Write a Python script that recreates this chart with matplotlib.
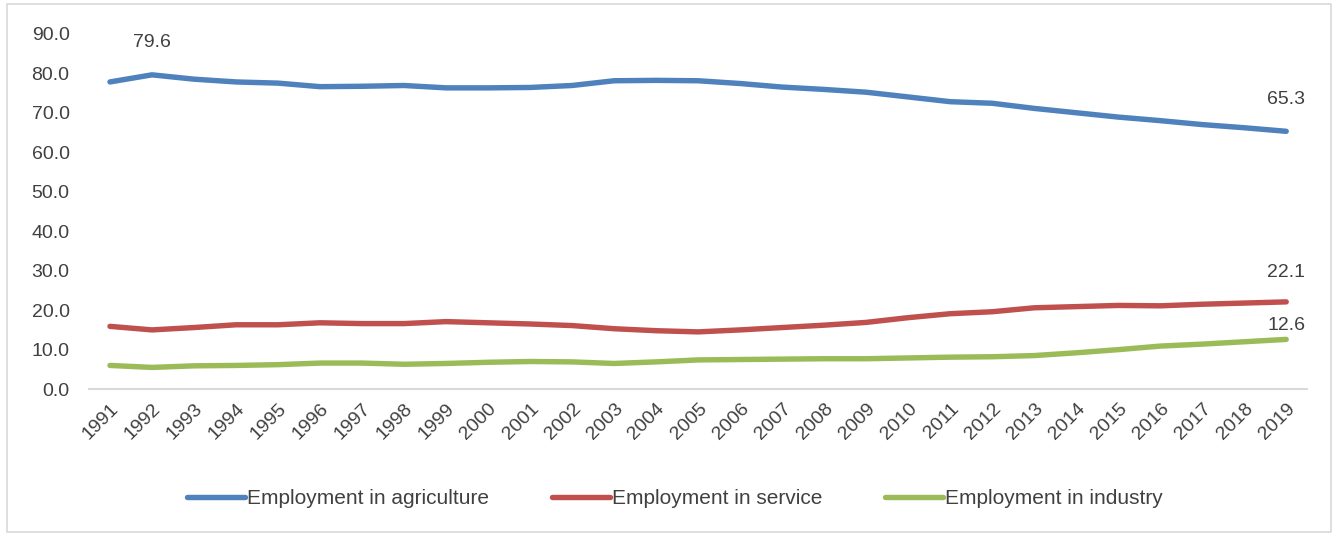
import matplotlib
matplotlib.use("Agg")
import matplotlib.pyplot as plt
from matplotlib.patches import Rectangle

years = list(range(1991, 2020))

agriculture = [77.8, 79.6, 78.5, 77.8, 77.5, 76.6, 76.7, 76.9, 76.3, 76.3,
               76.4, 76.9, 78.1, 78.2, 78.1, 77.4, 76.5, 75.9, 75.2, 74.0,
               72.8, 72.4, 71.1, 70.0, 68.9, 68.0, 67.0, 66.2, 65.3]
service = [15.9, 15.0, 15.6, 16.3, 16.3, 16.8, 16.6, 16.6, 17.1, 16.8,
           16.5, 16.1, 15.3, 14.8, 14.5, 15.0, 15.6, 16.2, 16.9, 18.1,
           19.1, 19.6, 20.6, 20.9, 21.2, 21.1, 21.5, 21.8, 22.1]
industry = [6.0, 5.5, 5.9, 6.0, 6.2, 6.6, 6.6, 6.3, 6.5, 6.8,
            7.0, 6.9, 6.5, 6.9, 7.4, 7.5, 7.6, 7.7, 7.7, 7.9,
            8.1, 8.2, 8.5, 9.2, 10.0, 10.9, 11.4, 12.0, 12.6]

series = [
    ("Employment in agriculture", agriculture, "#4F81BD"),
    ("Employment in service", service, "#C0504D"),
    ("Employment in industry", industry, "#9BBB59"),
]

# data labels: (series index, year)
labels = [(0, 1992), (0, 2019), (1, 2019), (2, 2019)]
label_offsets = [23, 23, 21, 10]  # points above the line

plt.rcParams['font.family'] = ['Liberation Sans', 'DejaVu Sans']
text_color = '#404040'

fig = plt.figure(figsize=(13.38, 5.36), dpi=100)
ax = fig.add_axes([0.0665, 0.274, 0.9105, 0.663])

for name, vals, color in series:
    ax.plot(years, vals, color=color, linewidth=3.9, label=name,
            solid_capstyle='round', solid_joinstyle='round')

for (si, yr), off in zip(labels, label_offsets):
    vals = series[si][1]
    v = vals[years.index(yr)]
    ax.annotate(f"{v:.1f}", (yr, v), xytext=(0, off), textcoords='offset points',
                ha='center', va='center', fontsize=14, color=text_color)

ax.set_xlim(1990.5, 2019.5)
ax.set_ylim(0, 90)
ax.set_yticks(range(0, 91, 10))
ax.set_yticklabels([f"{v:.1f}" for v in range(0, 91, 10)])
ax.set_xticks(years)
ax.set_xticklabels([str(y) for y in years], rotation=45, ha='right',
                   rotation_mode='anchor')

for s in ['top', 'right', 'left']:
    ax.spines[s].set_visible(False)
ax.spines['bottom'].set_color('#D9D9D9')
ax.spines['bottom'].set_linewidth(1.5)
ax.tick_params(axis='both', length=0, labelsize=14, colors=text_color)
ax.tick_params(axis='y', pad=14)
ax.tick_params(axis='x', pad=8)

leg = fig.legend(loc='center', bbox_to_anchor=(0.5045, 0.07), ncol=3,
                 frameon=False, fontsize=15, handlelength=2.8,
                 handletextpad=0.1, columnspacing=3.0)
for t in leg.get_texts():
    t.set_color(text_color)

fig.patches.append(Rectangle((0.005, 0.008), 0.99, 0.984, transform=fig.transFigure,
                             fill=False, edgecolor='#D9D9D9', linewidth=1.2))

fig.savefig("out.png", dpi=100)
